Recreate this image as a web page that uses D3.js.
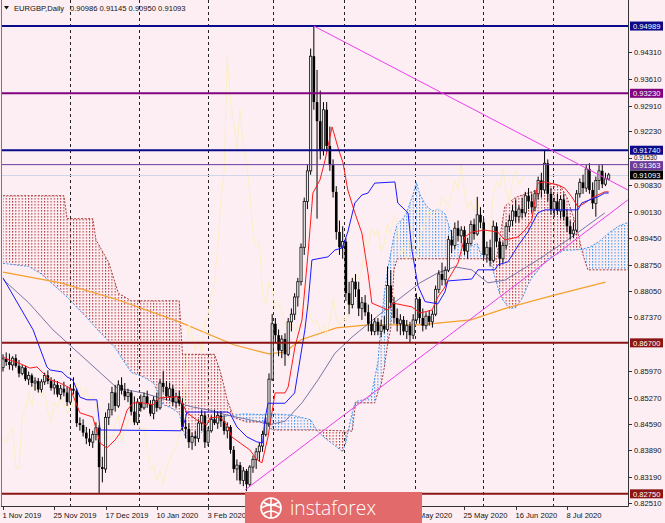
<!DOCTYPE html>
<html><head><meta charset="utf-8">
<script src="https://cdn.jsdelivr.net/npm/d3@7"></script>
<style>html,body{margin:0;padding:0;background:#fdeef3;}svg{display:block}</style>
</head><body>
<svg id="c" width="665" height="523"></svg>
<script>
// ---------------- DATA ----------------
const symbolTitle = "EURGBP,Daily";
const lastQuote = ["0.90986","0.91145","0.90950","0.91093"];

const opens = [.8605,.8628,.8620,.8612,.8630,.8610,.8590,.8605,.8575,.8585,.8565,.8570,.8548,.8568,.8585,.8570,.8552,.8560,.8535,.8550,
.8540,.8515,.8550,.8545,.8460,.8455,.8435,.8420,.8410,.8430,.8448,.8345,.8340,.8475,.8495,.8540,.8505,.8560,.8545,.8530,
.8540,.8490,.8462,.8515,.8500,.8530,.8510,.8485,.8520,.8500,.8565,.8555,.8530,.8550,.8515,.8530,.8512,.8450,.8445,.8410,
.8425,.8420,.8460,.8480,.8410,.8440,.8470,.8460,.8480,.8465,.8440,.8450,.8390,.8340,.8350,.8310,.8335,.8300,.8345,.8365,
.8385,.8400,.8430,.8460,.8575,.8720,.8690,.8650,.8680,.8640,.8725,.8745,.8790,.8830,.8920,.9040,.9120,.9420,.9300,.9250,
.9175,.9280,.9185,.9135,.9065,.8960,.8920,.8935,.8800,.8770,.8830,.8810,.8760,.8775,.8750,.8720,.8700,.8725,.8700,.8715,
.8705,.8820,.8775,.8735,.8720,.8730,.8700,.8715,.8690,.8730,.8785,.8735,.8715,.8740,.8725,.8745,.8810,.8850,.8835,.8860,
.8940,.8925,.8970,.8950,.8965,.8910,.8930,.8980,.8955,.9005,.8985,.8900,.8920,.8885,.8975,.8935,.8890,.8925,.8975,.8990,
.9015,.9000,.9020,.9010,.9055,.9040,.9025,.9060,.9095,.9070,.9140,.9060,.9020,.9040,.9015,.9045,.9000,.8975,.8955,.8965,
.9060,.9090,.9075,.9125,.9070,.9035,.9095,.9120,.9085,.90986];
const highs = [.8640,.8645,.8642,.8635,.8640,.8625,.8612,.8610,.8595,.8590,.8580,.8578,.8575,.8592,.8598,.8580,.8575,.8570,.8560,.8568,
.8555,.8560,.8580,.8550,.8475,.8470,.8450,.8445,.8440,.8462,.8455,.8372,.8488,.8512,.8555,.8560,.8572,.8580,.8565,.8550,
.8545,.8530,.8525,.8535,.8540,.8545,.8520,.8530,.8540,.8575,.8596,.8570,.8565,.8560,.8540,.8545,.8525,.8470,.8460,.8435,
.8440,.8470,.8495,.8490,.8450,.8480,.8495,.8490,.8492,.8480,.8462,.8455,.8400,.8365,.8358,.8345,.8340,.8350,.8375,.8395,
.8410,.8440,.8475,.8590,.8745,.8735,.8705,.8690,.8695,.8735,.8760,.8800,.8840,.8930,.9050,.9135,.9440,.9499,.9384,.9330,
.9300,.9300,.9236,.9150,.9080,.8990,.8975,.8945,.8830,.8840,.8850,.8830,.8790,.8795,.8770,.8745,.8735,.8735,.8730,.8740,
.8870,.8860,.8790,.8760,.8745,.8740,.8730,.8725,.8745,.8800,.8790,.8760,.8750,.8755,.8755,.8820,.8860,.8880,.8870,.8950,
.8965,.8985,.8990,.8975,.8975,.8945,.8990,.8995,.9052,.9025,.8995,.8935,.8940,.8990,.8985,.8945,.8935,.8985,.9005,.9030,
.9045,.9030,.9050,.9065,.9075,.9060,.9070,.9105,.9115,.9174,.9150,.9075,.9050,.9060,.9055,.9060,.9020,.8990,.8985,.9070,
.9100,.9110,.9135,.9140,.9090,.9105,.9135,.9136,.9115,.91145];
const lows = [.8595,.8610,.8600,.8598,.8605,.8580,.8585,.8570,.8560,.8555,.8545,.8540,.8540,.8560,.8562,.8545,.8535,.8528,.8522,.8530,
.8505,.8510,.8535,.8450,.8440,.8425,.8405,.8400,.8395,.8415,.8277,.8305,.8330,.8455,.8480,.8490,.8500,.8535,.8520,.8515,
.8480,.8455,.8455,.8490,.8495,.8500,.8478,.8470,.8490,.8495,.8540,.8520,.8520,.8505,.8500,.8505,.8440,.8420,.8395,.8390,
.8400,.8410,.8440,.8395,.8400,.8435,.8455,.8445,.8450,.8430,.8420,.8380,.8330,.8310,.8300,.8295,.8282,.8295,.8330,.8340,
.8360,.8385,.8425,.8450,.8570,.8670,.8635,.8630,.8610,.8635,.8700,.8730,.8765,.8820,.8900,.9020,.9110,.9280,.8995,.9150,
.9160,.9170,.9120,.9050,.8940,.8900,.8890,.8780,.8745,.8760,.8790,.8740,.8730,.8740,.8700,.8690,.8690,.8690,.8685,.8695,
.8700,.8760,.8720,.8700,.8690,.8690,.8680,.8670,.8680,.8720,.8720,.8700,.8705,.8715,.8710,.8740,.8800,.8820,.8820,.8855,
.8905,.8915,.8935,.8930,.8900,.8890,.8925,.8940,.8950,.8970,.8890,.8880,.8870,.8880,.8920,.8870,.8880,.8915,.8960,.8975,
.8985,.8985,.8995,.9000,.9020,.9010,.9015,.9045,.9050,.9060,.9040,.9005,.9000,.9005,.8995,.8990,.8960,.8940,.8945,.8960,
.9050,.9060,.9065,.9060,.9020,.9000,.9070,.9075,.9080,.90950];
const closes = [.8628,.8620,.8612,.8630,.8610,.8590,.8605,.8575,.8585,.8565,.8570,.8548,.8568,.8585,.8570,.8552,.8560,.8535,.8550,.8540,
.8515,.8550,.8545,.8460,.8455,.8435,.8420,.8410,.8430,.8448,.8345,.8340,.8475,.8495,.8540,.8505,.8560,.8545,.8530,.8540,
.8490,.8462,.8515,.8500,.8530,.8510,.8485,.8520,.8500,.8565,.8555,.8530,.8550,.8515,.8530,.8512,.8450,.8445,.8410,.8425,
.8420,.8460,.8480,.8410,.8440,.8470,.8460,.8480,.8465,.8440,.8450,.8390,.8340,.8350,.8310,.8335,.8300,.8345,.8365,.8385,
.8400,.8430,.8460,.8575,.8720,.8690,.8650,.8680,.8640,.8725,.8745,.8790,.8830,.8920,.9040,.9120,.9420,.9300,.9250,.9175,
.9280,.9185,.9135,.9065,.8960,.8920,.8935,.8800,.8770,.8830,.8810,.8760,.8775,.8750,.8720,.8700,.8725,.8700,.8715,.8705,
.8820,.8775,.8735,.8720,.8730,.8700,.8715,.8690,.8730,.8785,.8735,.8715,.8740,.8725,.8745,.8810,.8850,.8835,.8860,.8940,
.8925,.8970,.8950,.8965,.8910,.8930,.8980,.8955,.9005,.8985,.8900,.8920,.8885,.8975,.8935,.8890,.8925,.8975,.8990,.9015,
.9000,.9020,.9010,.9055,.9040,.9025,.9060,.9095,.9070,.9140,.9060,.9020,.9040,.9015,.9045,.9000,.8975,.8955,.8965,.9060,
.9090,.9075,.9125,.9070,.9035,.9095,.9120,.9085,.9099,.91093];

// Ichimoku lines: [bar index, price]
const tenkan = [[0,.8633],[2,.8625],[5,.8617],[8.4,.8604],[10.6,.8607],[14.7,.8573],[17.8,.8565],[20.9,.8552],[24,.8487],[28,.8476],[30.3,.8408],[32.4,.8395],[35,.8416],[36.5,.8434],[38.7,.8494],[40.6,.8513],[43.7,.8513],[46.8,.8508],[49,.8526],[54.3,.8529],[55.9,.8513],[57.4,.8487],[60.5,.8468],[63.6,.8455],[64.6,.8474],[67.7,.8476],[69.9,.8455],[71.4,.8424],[74,.8408],[77,.8390],[79.3,.8364],[80.8,.8356],[82.7,.8424],[84.9,.8539],[88,.8539],[89,.8555],[91.1,.8659],[93.3,.8730],[95.2,.8905],[96.7,.9062],[98.9,.9096],[100.5,.9148],[102.7,.9235],[104.5,.9182],[106.1,.9141],[107.6,.9070],[109.8,.9010],[112,.8957],[113.9,.8853],[115.1,.8774],[120.1,.8756],[121.7,.8774],[127.6,.8764],[130.1,.8748],[133.9,.8756],[135.7,.8790],[137.9,.8816],[138.8,.8834],[142,.8879],[144.1,.8947],[146.3,.8960],[150.3,.8965],[154.4,.8960],[156.6,.8939],[160.7,.8947],[162.9,.8965],[165,.8991],[166.9,.9088],[169.1,.9091],[173.2,.9083],[175.3,.9075],[177.5,.9052],[179.4,.9026],[181.6,.9036],[183.8,.9049],[185.6,.9057],[187.8,.9065],[189,.9065]];
const kijun = [[0,.8840],[9.4,.8704],[10.9,.8670],[13.7,.8607],[14.7,.8599],[18.4,.8594],[20,.8581],[21.8,.8573],[24,.8528],[26.2,.8521],[29.3,.8521],[30.3,.8442],[55.5,.8440],[56.8,.8468],[57.4,.8489],[69.9,.8489],[70.8,.8486],[73,.8450],[76.1,.8424],[79.2,.8411],[81,.8408],[81.7,.8468],[82.7,.8512],[88,.8512],[91,.8539],[94.2,.8704],[95.2,.8774],[96.4,.8887],[101.4,.8895],[103.6,.8913],[105.8,.8918],[107.6,.8960],[109.8,.9036],[112,.9057],[113.9,.9062],[116,.9088],[122.3,.9091],[123.2,.9036],[126.4,.9010],[127.6,.8913],[129.5,.8819],[131.7,.8778],[135.7,.8772],[137.9,.8803],[138.8,.8832],[146.3,.8837],[148.2,.8861],[153.5,.8861],[154.4,.8874],[157.6,.8882],[160.7,.8924],[163.8,.8960],[166.9,.9010],[169.1,.9018],[179.4,.9018],[180.6,.9036],[185.6,.9052],[187.8,.9062],[189,.9062]];
const spanA = [[0,.8878],[8,.8870],[12,.8850],[16,.8820],[20,.8790],[26,.8737],[30,.8700],[35,.8657],[37,.8631],[40,.8593],[44,.8580],[47,.8565],[50,.8508],[52,.8502],[55,.8486],[56,.8450],[57,.8421],[60,.8424],[62,.8436],[64,.8461],[66,.8475],[75,.8484],[82,.8482],[84,.8484],[90,.8481],[96,.8469],[98,.8440],[100,.8424],[103,.8405],[106,.8385],[107,.8410],[108,.8450],[109,.8488],[110,.8516],[114,.8525],[115,.8535],[117,.8620],[118,.8720],[119,.8800],[120,.8860],[122,.8950],[123,.8980],[125,.8997],[126,.9011],[128,.9060],[129,.9090],[130,.9060],[132,.9029],[134,.9015],[136,.9020],[138,.9007],[139,.8980],[140,.8954],[141,.8928],[146,.8923],[148,.8930],[149,.8904],[150,.8899],[152,.8888],[153,.8857],[154,.8828],[155,.8798],[156,.8782],[158,.8760],[160,.8762],[162,.8786],[164,.8825],[165,.8840],[168,.8870],[170,.8890],[172,.8898],[175,.8912],[180,.8914],[183,.8920],[186,.8935],[189,.8957],[192,.8975],[195,.8985]];
const spanB = [[0,.9055],[19,.9055],[20,.8995],[28,.8995],[29,.8940],[33,.8880],[36,.8800],[40,.8780],[55,.8780],[56,.8640],[66,.8640],[68,.8590],[70,.8520],[72,.8475],[76,.8463],[82,.8463],[84,.8442],[98,.8442],[109,.8439],[110,.8513],[116,.8513],[117,.8541],[118,.8561],[119,.8606],[120,.8666],[121,.8708],[122,.8861],[123,.8890],[154,.8890],[156.6,.9027],[159.8,.9050],[163.8,.9062],[167,.9070],[171.3,.9087],[174,.9080],[176,.9050],[178,.9000],[179.4,.8958],[181,.8900],[182.5,.8861],[195,.8861]];
// moving averages
const maOrange = [[0,.8855],[18,.8827],[36,.8782],[55,.8725],[72,.8665],[83,.8641],[88,.8646],[93,.8678],[104,.8709],[114,.8717],[130,.8717],[146,.8730],[157,.8761],[172,.8795],[188,.8829]];
const maSlate = [[0,.8836],[8,.8775],[15.6,.8704],[35.6,.8552],[43.7,.8539],[49,.8526],[59.3,.8502],[64.6,.8494],[69.9,.8481],[80.2,.8463],[82.7,.8455],[88,.8465],[93.3,.8513],[98.3,.8573],[103.6,.8643],[108.9,.8685],[119.2,.8756],[130.1,.8827],[135.7,.8853],[141,.8869],[146.3,.8861],[151.3,.8827],[156.6,.8834],[166.9,.8887],[177.5,.8947],[187.8,.9010]];
const chikouShift = 26;

// horizontal levels and trend lines
const levels = [0.94989, 0.93230, 0.91740, 0.91363, 0.86700, 0.82750];
const currentPrice = 0.91093;
const trendDown = [[97, 0.9499], [195, 0.9070]];
const trendUp = [[75.5, 0.8285], [195, 0.9044]];

// axes (labels hidden behind the watermark in the picture are not listed)
const priceTicks = ["0.94310","0.93610","0.92910","0.92230","0.91530","0.90830","0.90130","0.89450","0.88750","0.88050","0.87370","0.85970","0.85270","0.84590","0.83890","0.83190","0.82510"];
const dateTickBars = [0,16,32,48,64,128,144,160,176];
const dateTickLabels = ["1 Nov 2019","25 Nov 2019","17 Dec 2019","10 Jan 2020","3 Feb 2020","4 May 2020","25 May 2020","16 Jun 2020","8 Jul 2020"];
const gridBars = [20.9, 42.3, 64, 84.4, 106.4, 128.5, 149.8, 171.6];

// ---------------- STYLE ----------------
const levelColors = ["#0a0a8a","#800080","#0a0a8a","#6a3a9c","#8b1414","#8b1414"];
const levelWidths = [2,2,2,1,2,2];
const BG = "#fdeef3";
const FONT = "'Liberation Sans', Arial, sans-serif";
const P = {l:2, r:628, t:0, b:506};

// ---------------- DRAW ----------------
const svg = d3.select("#c");
const x = d3.scaleLinear().domain([0,176]).range([3,567]);
const y = d3.scaleLinear().domain([0.82510,0.94310]).range([503,52]);
const step = x(1)-x(0);

svg.append("rect").attr("width",665).attr("height",523).attr("fill",BG);
const defs = svg.append("defs");
defs.append("clipPath").attr("id","plotClip").append("rect")
  .attr("x",P.l).attr("y",P.t).attr("width",P.r-P.l).attr("height",P.b-P.t);

function hatch(id,color){
  const p = defs.append("pattern").attr("id",id).attr("patternUnits","userSpaceOnUse")
    .attr("x",x(0)-0.5).attr("y",0).attr("width",step).attr("height",3);
  p.append("rect").attr("x",0).attr("y",0).attr("width",1).attr("height",1.6).attr("fill",color);
}
hatch("hRed","#b23a3a");
hatch("hBlue","#3f95ee");

const areaBelow = d3.area().x(d=>x(d[0])).y0(P.b+5).y1(d=>y(d[1]));
const areaAbove = d3.area().x(d=>x(d[0])).y0(P.t-5).y1(d=>y(d[1]));
defs.append("clipPath").attr("id","aboveA").append("path").attr("d",areaAbove(spanA));
defs.append("clipPath").attr("id","aboveB").append("path").attr("d",areaAbove(spanB));

const g = svg.append("g").attr("clip-path","url(#plotClip)");

// grid
g.selectAll("line.grid").data(gridBars).join("line")
  .attr("x1",d=>Math.round(x(d))+0.5).attr("x2",d=>Math.round(x(d))+0.5)
  .attr("y1",P.t).attr("y2",P.b).attr("stroke","#222").attr("stroke-width",1)
  .attr("stroke-dasharray","3,3");

// cloud
g.append("g").attr("clip-path","url(#aboveA)").append("path")
  .attr("d",areaBelow(spanB)).attr("fill","url(#hRed)");
g.append("g").attr("clip-path","url(#aboveB)").append("path")
  .attr("d",areaBelow(spanA)).attr("fill","url(#hBlue)");
const line = d3.line().x(d=>x(d[0])).y(d=>y(d[1]));
g.append("path").attr("d",line(spanA)).attr("fill","none").attr("stroke","#3f95ee").attr("stroke-width",1).attr("stroke-dasharray","2,1.5");
g.append("path").attr("d",line(spanB)).attr("fill","none").attr("stroke","#a83a3a").attr("stroke-width",1).attr("stroke-dasharray","2,1.5");

// moving averages
g.append("path").attr("d",line(maOrange)).attr("fill","none").attr("stroke","#f5a02a").attr("stroke-width",1.2);
g.append("path").attr("d",line(maSlate)).attr("fill","none").attr("stroke","#7a74a8").attr("stroke-width",1);

// chikou span: closes drawn shifted back
const chikouPts = closes.slice(chikouShift).map((c,i)=>[i,c]);
g.append("path").attr("d",line(chikouPts)).attr("fill","none").attr("stroke","#fbefc4").attr("stroke-width",1);

// current price line
g.append("line").attr("x1",P.l).attr("x2",P.r).attr("y1",Math.round(y(currentPrice))+0.5).attr("y2",Math.round(y(currentPrice))+0.5)
  .attr("stroke","#cfd6ea").attr("stroke-width",1);

// candles
const cg = g.append("g");
closes.forEach((c,i)=>{
  const xi = x(i), o = opens[i];
  cg.append("line").attr("x1",xi).attr("x2",xi).attr("y1",y(highs[i])).attr("y2",y(lows[i]))
    .attr("stroke","#000").attr("stroke-width",1);
  const top = y(Math.max(o,c)), h = Math.max(1, Math.abs(y(o)-y(c)));
  if (c >= o) {
    cg.append("rect").attr("x",xi-1.1).attr("y",top).attr("width",2.2).attr("height",h)
      .attr("fill","#e8e8e8").attr("stroke","#111").attr("stroke-width",0.8);
  } else {
    cg.append("rect").attr("x",xi-1.3).attr("y",top).attr("width",2.6).attr("height",h).attr("fill","#000");
  }
});

// tenkan / kijun
g.append("path").attr("d",line(tenkan)).attr("fill","none").attr("stroke","#ff1a1a").attr("stroke-width",1);
g.append("path").attr("d",line(kijun)).attr("fill","none").attr("stroke","#1a1aff").attr("stroke-width",1);

// horizontal levels
levels.forEach((v,i)=>{
  g.append("line").attr("x1",P.l).attr("x2",P.r).attr("y1",y(v)).attr("y2",y(v))
    .attr("stroke",levelColors[i]).attr("stroke-width",levelWidths[i]);
});

// trend lines
[trendDown, trendUp].forEach(t=>{
  g.append("path").attr("d",line(t)).attr("fill","none").attr("stroke","#ee3cee").attr("stroke-width",1);
});

// frame
svg.append("line").attr("x1",1.5).attr("x2",1.5).attr("y1",0).attr("y2",P.b).attr("stroke","#777");
svg.append("line").attr("x1",P.r+0.5).attr("x2",P.r+0.5).attr("y1",0).attr("y2",P.b+0.5).attr("stroke","#333");
svg.append("line").attr("x1",1).attr("x2",P.r+0.5).attr("y1",P.b+0.5).attr("y2",P.b+0.5).attr("stroke","#333");

// right axis ticks and labels
priceTicks.forEach(t=>{
  const yy = Math.round(y(+t))+0.5;
  const squeezed = t === "0.91530";   // sits between two level boxes
  svg.append("line").attr("x1",P.r).attr("x2",P.r+4).attr("y1",yy).attr("y2",yy).attr("stroke","#333");
  svg.append("text").attr("x",P.r+6).attr("y",squeezed ? yy-1.2 : yy).attr("dy","0.35em").text(t)
    .attr("font-family",FONT).attr("font-size",squeezed ? 6.4 : 7.6).attr("fill","#111");
});
// level price boxes
const boxVals = levels.concat([currentPrice]);
const boxCols = levelColors.concat(["#000"]);
boxVals.forEach((v,i)=>{
  const yy = y(v) + (i===3 ? 1 : 0);
  svg.append("rect").attr("x",P.r+2).attr("y",yy-4.5).attr("width",33).attr("height",9).attr("fill",boxCols[i]);
  svg.append("text").attr("x",P.r+5).attr("y",yy).attr("dy","0.36em").text(v.toFixed(5))
    .attr("font-family",FONT).attr("font-size",7.6).attr("fill","#fff");
});

// bottom axis
dateTickBars.forEach((b,i)=>{
  const xx = Math.round(x(b))+0.5;
  svg.append("line").attr("x1",xx).attr("x2",xx).attr("y1",P.b).attr("y2",P.b+4).attr("stroke","#333");
  svg.append("text").attr("x",xx-1).attr("y",518).text(dateTickLabels[i])
    .attr("font-family",FONT).attr("font-size",7.6).attr("fill","#111");
});

// title
svg.append("path").attr("d","M4,6 L9,6 L6.5,9.5 Z").attr("fill","#111");
svg.append("text").attr("x",14).attr("y",11).text(symbolTitle)
  .attr("font-family",FONT).attr("font-size",7.6).attr("fill","#111");
svg.append("text").attr("x",70).attr("y",11).text(lastQuote.join(" "))
  .attr("font-family",FONT).attr("font-size",7.6).attr("fill","#111");

// watermark
const wm = svg.append("g");
wm.append("rect").attr("x",245).attr("y",492).attr("width",177).attr("height",31).attr("fill","#e26a6a");
const lg = wm.append("g").attr("transform","translate(271,508)").attr("fill","none").attr("stroke","#fff").attr("stroke-width",1.6);
lg.append("circle").attr("r",10);
lg.append("path").attr("d","M-10,0 Q0,-6 10,0 M-8,-6 Q0,0 8,-6 M-8,6 Q0,0 8,6 M0,-10 L0,10");
wm.append("text").attr("x",290).attr("y",515).text("instaforex")
  .attr("font-family","'Open Sans', sans-serif").attr("font-weight",300).attr("font-size",21)
  .attr("textLength",86).attr("lengthAdjust","spacingAndGlyphs").attr("fill","#fff");
</script>
</body></html>
